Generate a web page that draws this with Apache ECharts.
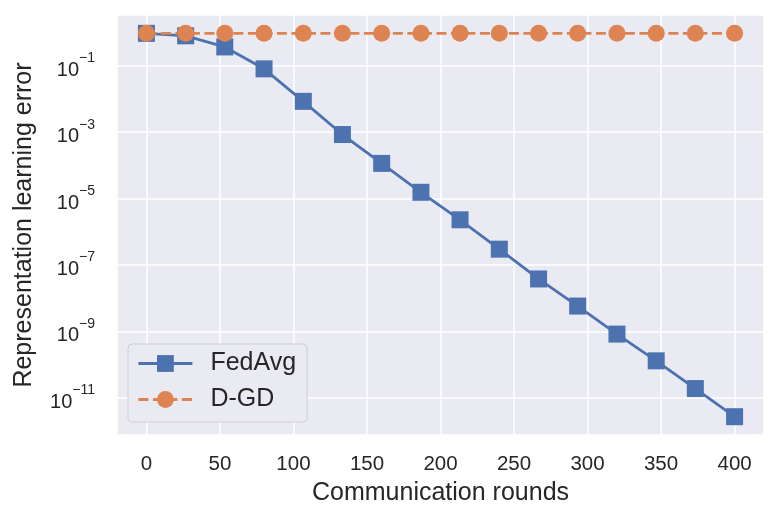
<!DOCTYPE html>
<html>
<head>
<meta charset="utf-8">
<script src="https://cdn.jsdelivr.net/npm/echarts@6/dist/echarts.min.js"></script>
<style>
  html, body { margin: 0; padding: 0; background: #fff; }
  #chart { width: 780px; height: 519px; }
</style>
</head>
<body>
<div id="chart"></div>
<script>
// data
var rounds = [0, 26.7, 53.3, 80, 106.7, 133.3, 160, 186.7, 213.3, 240, 266.7, 293.3, 320, 346.7, 373.3, 400];
var fedAvgErr = [0.95, 0.8, 0.37, 0.081, 8.5e-3, 8.5e-4, 1.15e-4, 1.55e-5, 2.3e-6, 3.0e-7, 3.8e-8, 5.8e-9, 8.3e-10, 1.3e-10, 1.9e-11, 2.7e-12];
var dgdErr = [0.95, 0.95, 0.95, 0.95, 0.95, 0.95, 0.95, 0.95, 0.95, 0.95, 0.95, 0.95, 0.95, 0.95, 0.95, 0.95];
var yTickExps = [-11, -9, -7, -5, -3, -1];
var seriesNames = ['FedAvg', 'D-GD'];

(function () {
    var myChart = echarts.init(document.getElementById('chart'));
    var font = 'Liberation Sans, Arial, sans-serif';
    var ink = '#262626';
    // y axis works on log10(err); shifted by 1 so the "every 2" ticks fall on odd powers
    var SHIFT = 1;
    function toY(arr) {
        return arr.map(function (v, i) { return [rounds[i], Math.log10(v) + SHIFT]; });
    }

    var option = {
        animation: false,
        textStyle: { fontFamily: font },
        grid: {
            left: 117, right: 16, top: 15, bottom: 84,
            show: true,
            backgroundColor: '#eaeaf2',
            borderWidth: 0
        },
        legend: {
            orient: 'vertical',
            left: 128,
            top: 344,
            itemWidth: 54,
            itemHeight: 21,
            itemGap: 11,
            padding: [7, 11, 10, 9],
            backgroundColor: '#eaeaf2',
            borderColor: 'rgba(204,204,204,0.9)',
            borderWidth: 1,
            borderRadius: 4,
            lineStyle: { width: 2.8 },
            textStyle: { fontSize: 25, color: ink, fontFamily: font, padding: [0, 0, 0, 13] },
            data: seriesNames
        },
        xAxis: {
            type: 'value',
            min: -20,
            max: 420,
            minInterval: 50,
            maxInterval: 50,
            name: 'Communication rounds',
            nameLocation: 'middle',
            nameGap: 46,
            nameTextStyle: { fontSize: 25, color: ink, fontFamily: font },
            axisLine: { show: false },
            axisTick: { show: false },
            axisLabel: {
                fontSize: 20.5, color: ink, margin: 19, fontFamily: font,
                showMinLabel: false, showMaxLabel: false,
                formatter: function (v) { return v % 50 === 0 ? String(v) : ''; }
            },
            splitLine: { lineStyle: { color: '#ffffff', width: 1.5 } }
        },
        yAxis: {
            type: 'value',
            min: -12.12 + SHIFT,
            max: 0.53 + SHIFT,
            minInterval: 2,
            maxInterval: 2,
            name: 'Representation learning error',
            nameLocation: 'middle',
            nameGap: 80,
            nameTextStyle: { fontSize: 25, color: ink, fontFamily: font },
            axisLine: { show: false },
            axisTick: { show: false },
            axisLabel: {
                margin: 22,
                showMinLabel: false, showMaxLabel: false,
                formatter: function (v) {
                    var e = Math.round(v - SHIFT);
                    if (Math.abs(v - SHIFT - e) > 1e-6 || yTickExps.indexOf(e) < 0) return '';
                    return '{b|10}{s|' + (e < 0 ? '\u2212' : '') + Math.abs(e) + '}';
                },
                rich: {
                    b: { fontSize: 20, color: ink, fontFamily: font, padding: [9, 0, 0, 0], verticalAlign: 'bottom' },
                    s: { fontSize: 14, color: ink, fontFamily: font, verticalAlign: 'top' }
                }
            },
            splitLine: { lineStyle: { color: '#ffffff', width: 1.5 } }
        },
        series: [
            {
                name: seriesNames[0],
                type: 'line',
                data: toY(fedAvgErr),
                symbol: 'rect',
                symbolSize: 17,
                color: '#4c72b0',
                lineStyle: { width: 2.8, color: '#4c72b0' },
                itemStyle: { color: '#4c72b0' }
            },
            {
                name: seriesNames[1],
                type: 'line',
                data: toY(dgdErr),
                symbol: 'circle',
                symbolSize: 17,
                color: '#dd8452',
                lineStyle: { width: 2.8, color: '#dd8452', type: [10, 4.5] },
                itemStyle: { color: '#dd8452' }
            }
        ]
    };
    myChart.setOption(option);
    window.addEventListener('resize', function () {
        myChart.resize();
    });
})();
</script>
</body>
</html>
